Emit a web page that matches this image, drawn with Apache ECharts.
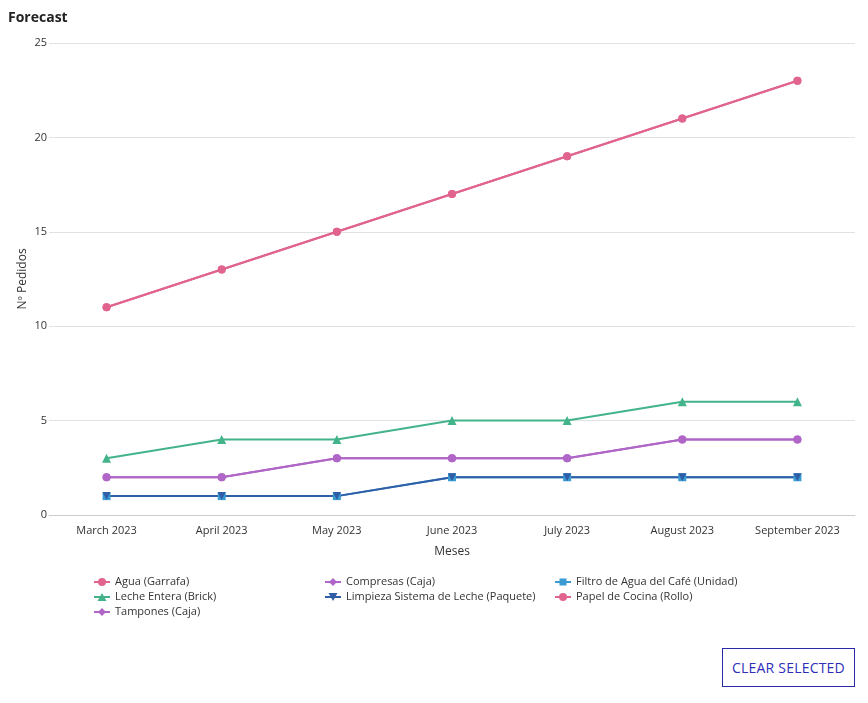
<!DOCTYPE html>
<html>
<head>
<meta charset="utf-8">
<script src="https://cdn.jsdelivr.net/npm/echarts@6/dist/echarts.min.js"></script>
<style>
  html, body { margin: 0; padding: 0; background: #fff; font-family: "Open Sans", sans-serif; }
  #main { width: 868px; height: 703px; }
  .btn {
    position: absolute; left: 722px; top: 648px; width: 133px; height: 39px;
    border: 1px solid #2a2aa8; color: #2e2eb8; background: #fff;
    font: 14px "Open Sans", sans-serif; box-sizing: border-box;
    display: flex; align-items: center; justify-content: center; letter-spacing: 0.2px;
  }
</style>
</head>
<body>
<div id="main"></div>
<div class="btn">CLEAR SELECTED</div>
<script>
// datos del forecast
var months = ['March 2023', 'April 2023', 'May 2023', 'June 2023', 'July 2023', 'August 2023', 'September 2023'];
var agua      = [11, 13, 15, 17, 19, 21, 23];
var compresas = [2, 2, 3, 3, 3, 4, 4];
var filtro    = [1, 1, 1, 2, 2, 2, 2];
var leche     = [3, 4, 4, 5, 5, 6, 6];
var limpieza  = [1, 1, 1, 2, 2, 2, 2];
var papel     = [11, 13, 15, 17, 19, 21, 23];
var tampones  = [2, 2, 3, 3, 3, 4, 4];
var yTicks = [0, 5, 10, 15, 20, 25];

var pink = '#e0648e', purple = '#b066c6', lightBlue = '#3a9ad2', green = '#43b38a', darkBlue = '#2f5ea6';

// iconos de leyenda: linea + marcador
var line = 'M0,3H16V5H0Z ';
var icons = {
  circle: 'path://' + line + 'M4,4A4,4 0 1 1 12,4A4,4 0 1 1 4,4Z',
  diamond: 'path://' + line + 'M8,0L12,4L8,8L4,4Z',
  triangle: 'path://' + line + 'M8,0L12.5,8H3.5Z',
  triDown: 'path://' + line + 'M8,8L3.5,0H12.5Z',
  square: 'path://' + line + 'M4.5,0.5H11.5V7.5H4.5Z'
};
var triDownSymbol = 'path://M0,0L10,0L5,10Z';

function serie(name, data, color, symbol, size) {
  return {
    name: name, type: 'line', data: data, symbol: symbol, symbolSize: size,
    lineStyle: { color: color, width: 2 }, itemStyle: { color: color }
  };
}

function legendCol(left, names, iconList) {
  return {
    orient: 'vertical', left: left, top: 575, padding: 0,
    itemWidth: 16, itemHeight: 8, itemGap: 1,
    data: names.map(function (n, i) { return { name: n, icon: iconList[i] }; }),
    textStyle: { fontFamily: 'Open Sans', fontSize: 11, color: '#333', lineHeight: 14 }
  };
}

var chart = echarts.init(document.getElementById('main'));
chart.setOption({
  animation: false,
  textStyle: { fontFamily: 'Open Sans' },
  title: { text: 'Forecast', left: 8, top: 11, padding: 0, textStyle: { fontSize: 14, fontWeight: 'bold', color: '#222' } },
  grid: { left: 49, right: 13, top: 43, bottom: 188, outerBoundsMode: 'none' },
  legend: [
    legendCol(94, ['Agua (Garrafa)', 'Leche Entera (Brick)', 'Tampones (Caja)'], [icons.circle, icons.triangle, icons.diamond]),
    legendCol(325, ['Compresas (Caja)', 'Limpieza Sistema de Leche (Paquete)'], [icons.diamond, icons.triDown]),
    legendCol(555, ['Filtro de Agua del Café (Unidad)', 'Papel de Cocina (Rollo)'], [icons.square, icons.circle])
  ],
  xAxis: {
    type: 'category', data: months, boundaryGap: true,
    name: 'Meses', nameLocation: 'middle', nameGap: 31,
    nameTextStyle: { fontSize: 12, color: '#333' },
    axisLine: { lineStyle: { color: '#ccc' } }, axisTick: { show: false },
    axisLabel: { fontSize: 11, color: '#333', margin: 10 }
  },
  yAxis: {
    type: 'value', min: yTicks[0], max: yTicks[yTicks.length - 1], interval: 5,
    name: 'Nº Pedidos', nameLocation: 'middle', nameGap: 20, nameMoveOverlap: false,
    nameTextStyle: { fontSize: 12, color: '#333' },
    axisLabel: { fontSize: 11, color: '#333', margin: 2 },
    splitLine: { lineStyle: { color: '#e2e2e2' } }
  },
  series: [
    serie('Agua (Garrafa)', agua, pink, 'circle', 8),
    serie('Compresas (Caja)', compresas, purple, 'circle', 8),
    serie('Filtro de Agua del Café (Unidad)', filtro, lightBlue, 'rect', 8),
    serie('Leche Entera (Brick)', leche, green, 'triangle', 9),
    serie('Limpieza Sistema de Leche (Paquete)', limpieza, darkBlue, triDownSymbol, 8),
    serie('Papel de Cocina (Rollo)', papel, pink, 'circle', 8),
    serie('Tampones (Caja)', tampones, purple, 'circle', 8)
  ]
});
</script>
</body>
</html>
